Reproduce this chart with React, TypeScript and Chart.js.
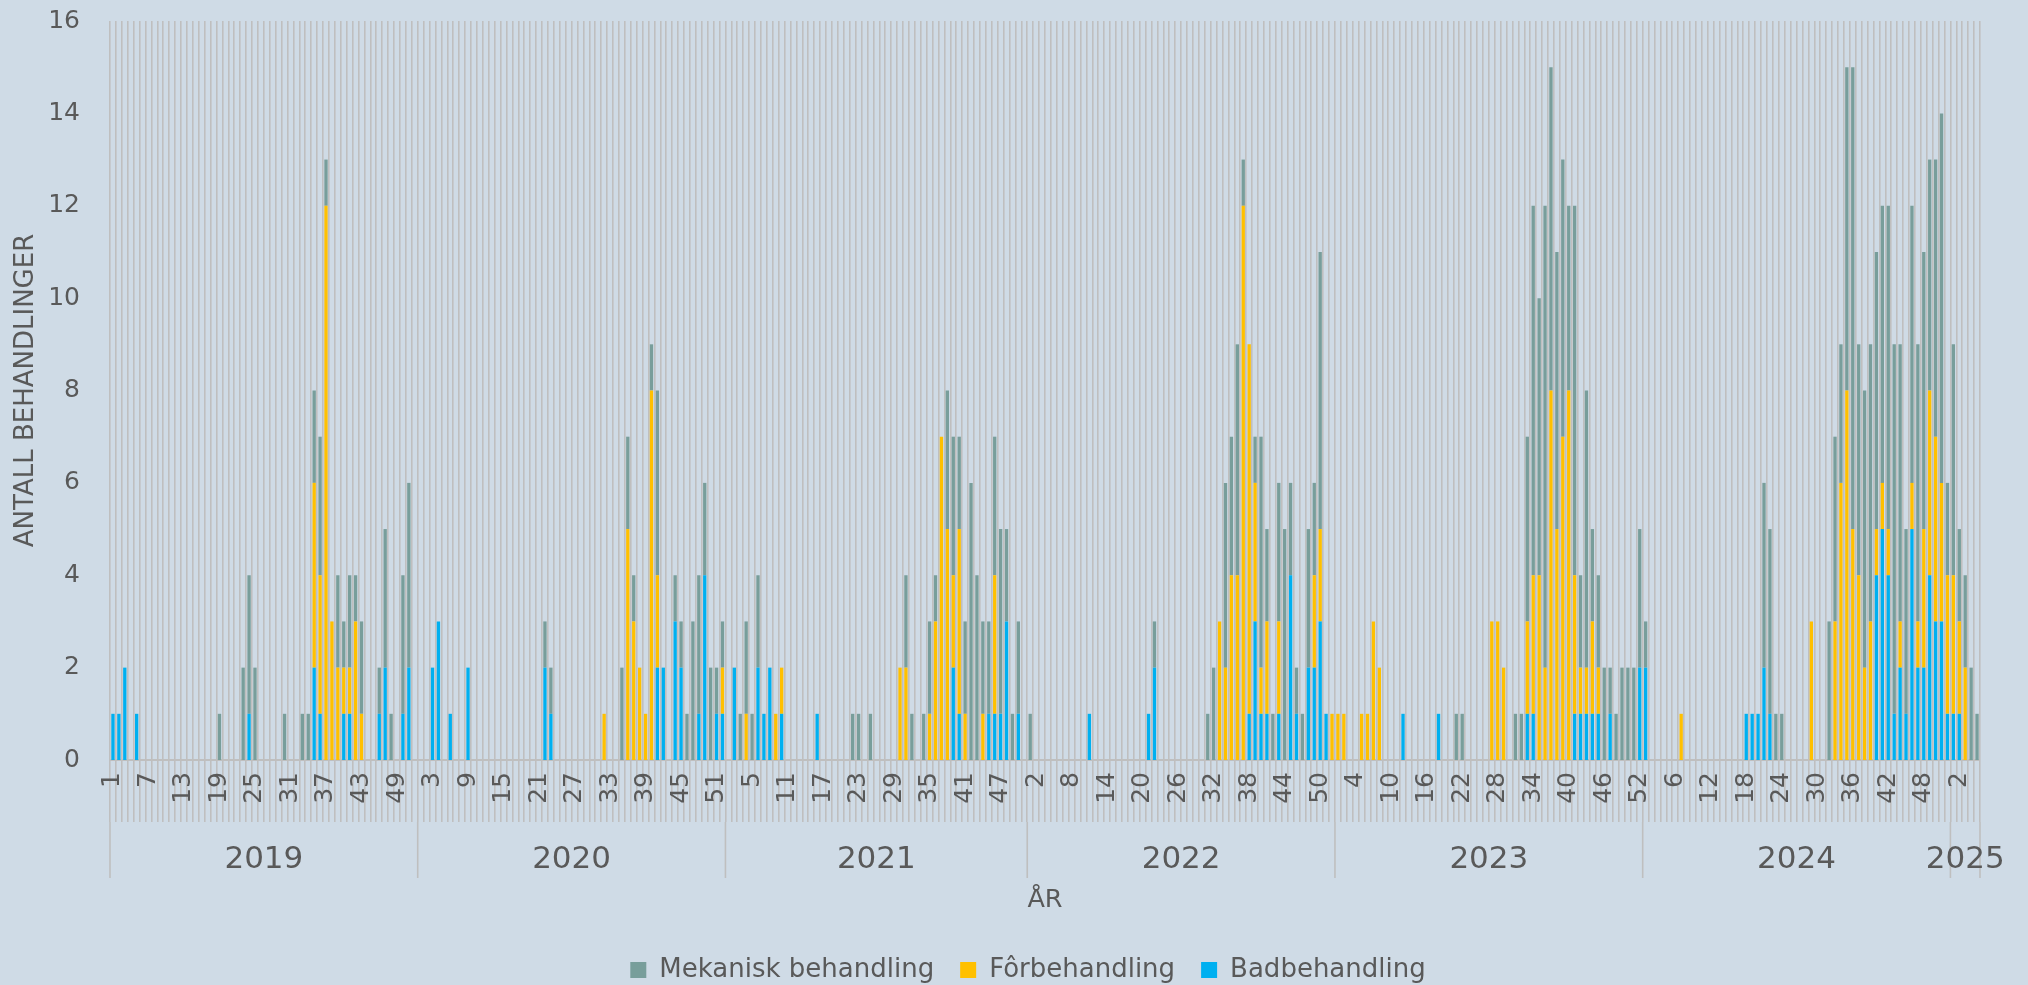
import React, { useEffect, useRef } from 'react';
import { Chart, registerables } from 'chart.js';

Chart.register(...registerables);

const YEARS = ['2019', '2020', '2021', '2022', '2023', '2024', '2025'];
const WEEKS_PER_YEAR = [52, 52, 51, 52, 52, 52, 5];
const LABEL_EVERY = 6;

// Mekanisk behandling
const MEK_2019 = [0,0,0,0,0,0,0,0,0,0, 0,0,0,0,0,0,0,0,1,0, 0,0,2,3,2,0,0,0,0,1, 0,0,1,1,2,3,1,0,2,1, 2,1,2,0,0,1,3,1,0,3, 4,0];
const MEK_2020 = [0,0,0,0,0,0,0,0,0,0, 0,0,0,0,0,0,0,0,0,0, 0,1,1,0,0,0,0,0,0,0, 0,0,0,0,2,2,1,0,0,1, 4,0,0,1,1,1,3,3,2,2, 1,1];
const MEK_2021 = [0,0,1,2,1,2,0,0,0,0, 0,0,0,0,0,0,0,0,0,0, 0,1,1,0,1,0,0,0,0,0, 2,1,0,1,2,1,0,3,3,2, 2,6,4,2,2,3,4,2,1,2, 0];
const MEK_2022 = [1,0,0,0,0,0,0,0,0,0, 0,0,0,0,0,0,0,0,0,0, 0,1,0,0,0,0,0,0,0,0, 1,2,0,4,3,5,1,0,1,5, 2,1,3,5,2,1,1,3,2,6, 0,0];
const MEK_2023 = [0,0,0,0,0,0,0,0,0,0, 0,0,0,0,0,0,0,0,0,0, 1,1,0,0,0,0,0,0,0,0, 1,1,4,8,6,10,7,6,6,4, 8,2,6,2,2,2,1,1,2,2, 2,3];
const MEK_2024 = [1,0,0,0,0,0,0,0,0,0, 0,0,0,0,0,0,0,0,0,0, 4,4,1,1,0,0,0,0,0,0, 0,3,4,3,7,10,5,6,6,6, 6,7,8,6,4,6,6,6,5,6, 8,2];
const MEK_2025 = [5,2,2,2,1];

// Fôrbehandling
const FOR_2019 = [0,0,0,0,0,0,0,0,0,0, 0,0,0,0,0,0,0,0,0,0, 0,0,0,0,0,0,0,0,0,0, 0,0,0,0,4,3,12,3,2,1, 1,3,1,0,0,0,0,0,0,0, 0,0];
const FOR_2020 = [0,0,0,0,0,0,0,0,0,0, 0,0,0,0,0,0,0,0,0,0, 0,0,0,0,0,0,0,0,0,0, 0,1,0,0,0,5,3,2,1,8, 2,0,0,0,0,0,0,0,0,0, 0,1];
const FOR_2021 = [0,0,0,1,0,0,0,0,1,1, 0,0,0,0,0,0,0,0,0,0, 0,0,0,0,0,0,0,0,0,2, 2,0,0,0,1,3,7,5,2,4, 1,0,0,1,0,3,0,0,0,0, 0];
const FOR_2022 = [0,0,0,0,0,0,0,0,0,0, 0,0,0,0,0,0,0,0,0,0, 0,0,0,0,0,0,0,0,0,0, 0,0,3,2,4,4,12,8,3,1, 2,0,2,0,0,0,0,0,2,2, 0,1];
const FOR_2023 = [1,1,0,0,1,1,3,2,0,0, 0,0,0,0,0,0,0,0,0,0, 0,0,0,0,0,0,3,3,2,0, 0,0,2,3,4,2,8,5,7,8, 3,1,1,2,1,0,0,0,0,0, 0,0];
const FOR_2024 = [0,0,0,0,0,0,1,0,0,0, 0,0,0,0,0,0,0,0,0,0, 0,0,0,0,0,0,0,0,3,0, 0,0,3,6,8,5,4,2,3,1, 1,1,0,1,0,1,1,3,4,4, 3,3];
const FOR_2025 = [3,2,2,0,0];

// Badbehandling
const BAD_2019 = [1,1,2,0,1,0,0,0,0,0, 0,0,0,0,0,0,0,0,0,0, 0,0,0,1,0,0,0,0,0,0, 0,0,0,0,2,1,0,0,0,1, 1,0,0,0,0,1,2,0,0,1, 2,0];
const BAD_2020 = [0,0,2,3,0,1,0,0,2,0, 0,0,0,0,0,0,0,0,0,0, 0,2,1,0,0,0,0,0,0,0, 0,0,0,0,0,0,0,0,0,0, 2,2,0,3,2,0,0,1,4,0, 1,1];
const BAD_2021 = [0,2,0,0,0,2,1,2,0,1, 0,0,0,0,0,1,0,0,0,0, 0,0,0,0,0,0,0,0,0,0, 0,0,0,0,0,0,0,0,2,1, 0,0,0,0,1,1,1,3,0,1, 0];
const BAD_2022 = [0,0,0,0,0,0,0,0,0,0, 1,0,0,0,0,0,0,0,0,0, 1,2,0,0,0,0,0,0,0,0, 0,0,0,0,0,0,0,1,3,1, 1,0,1,0,4,1,0,2,2,3, 1,0];
const BAD_2023 = [0,0,0,0,0,0,0,0,0,0, 0,1,0,0,0,0,0,1,0,0, 0,0,0,0,0,0,0,0,0,0, 0,0,1,1,0,0,0,0,0,0, 1,1,1,1,1,0,1,0,0,0, 0,2];
const BAD_2024 = [2,0,0,0,0,0,0,0,0,0, 0,0,0,0,0,0,0,1,1,1, 2,1,0,0,0,0,0,0,0,0, 0,0,0,0,0,0,0,0,0,4, 5,4,1,2,1,5,2,2,4,3, 3,1];
const BAD_2025 = [1,1,0,0,0];

const MEKANISK = [...MEK_2019, ...MEK_2020, ...MEK_2021, ...MEK_2022, ...MEK_2023, ...MEK_2024, ...MEK_2025];
const FORBEH = [...FOR_2019, ...FOR_2020, ...FOR_2021, ...FOR_2022, ...FOR_2023, ...FOR_2024, ...FOR_2025];
const BADBEH = [...BAD_2019, ...BAD_2020, ...BAD_2021, ...BAD_2022, ...BAD_2023, ...BAD_2024, ...BAD_2025];
const WEEK_LABELS = WEEKS_PER_YEAR.flatMap((n) => Array.from({ length: n }, (_, i) => String(i + 1)));

const FONT = "'DejaVu Sans', Verdana, sans-serif";
const TEXT = '#595959';
const GRID = '#bfbfbf';
const BG = '#cfdbe6';
const GRAY = '#789e9b';
const YELLOW = '#ffc000';
const BLUE = '#00b0f0';

const yearPlugin = {
  id: 'yearLabels',
  afterDraw(chart: any) {
    const { ctx, chartArea } = chart;
    const xs = chart.scales.x;
    const half = (xs.getPixelForValue(1) - xs.getPixelForValue(0)) / 2;
    const yTop = chartArea.bottom + 62;
    const yBot = chartArea.bottom + 118;
    const yMid = chartArea.bottom + 100;
    ctx.save();
    ctx.strokeStyle = GRID;
    ctx.lineWidth = 1.6;
    ctx.fillStyle = TEXT;
    ctx.font = `31px ${FONT}`;
    ctx.textAlign = 'center';
    ctx.textBaseline = 'middle';
    let start = 0;
    WEEKS_PER_YEAR.forEach((n, k) => {
      const x0 = xs.getPixelForValue(start) - half;
      const x1 = xs.getPixelForValue(start + n - 1) + half;
      ctx.beginPath();
      ctx.moveTo(x0, yTop);
      ctx.lineTo(x0, yBot);
      ctx.stroke();
      if (k === WEEKS_PER_YEAR.length - 1) {
        ctx.beginPath();
        ctx.moveTo(x1, yTop);
        ctx.lineTo(x1, yBot);
        ctx.stroke();
      }
      ctx.fillText(YEARS[k], (x0 + x1) / 2, yMid);
      start += n;
    });
    ctx.restore();
  },
};

const legendShift = {
  id: 'legendShift',
  afterLayout(chart: any) {
    const lg = chart.legend;
    if (lg) {
      lg.left -= 17;
      lg.right -= 17;
    }
  },
};

export default function App() {
  const ref = useRef<HTMLCanvasElement>(null);
  useEffect(() => {
    const canvas = ref.current!;
    const chart = new Chart(canvas, {
      type: 'bar',
      data: {
        labels: WEEK_LABELS,
        datasets: [
          { label: 'Badbehandling', data: BADBEH, backgroundColor: BLUE, borderWidth: 0 },
          { label: 'Fôrbehandling', data: FORBEH, backgroundColor: YELLOW, borderWidth: 0 },
          { label: 'Mekanisk behandling', data: MEKANISK, backgroundColor: GRAY, borderWidth: 0 },
        ],
      },
      options: {
        animation: false,
        responsive: true,
        maintainAspectRatio: false,
        layout: { padding: { left: 0, right: 48, top: 21, bottom: -8 } },
        datasets: { bar: { categoryPercentage: 0.56, barPercentage: 1 } },
        scales: {
          x: {
            stacked: true,
            grid: { color: GRID, lineWidth: 1.6, offset: true, tickLength: 62, drawOnChartArea: true, tickColor: GRID },
            border: { color: GRID, width: 2 },
            ticks: {
              autoSkip: false,
              maxRotation: 90,
              minRotation: 90,
              padding: -50,
              color: TEXT,
              font: { family: FONT, size: 25 },
              callback: (_v: any, index: number) => (index % LABEL_EVERY === 0 ? WEEK_LABELS[index] : ''),
            },
            title: {
              display: true,
              text: 'ÅR',
              color: TEXT,
              font: { family: FONT, size: 25.5, lineHeight: 1 },
              padding: { top: 0, bottom: 18 },
            },
            afterFit: (s: any) => {
              s.height = 171;
            },
          },
          y: {
            stacked: true,
            min: 0,
            max: 16,
            ticks: { stepSize: 2, color: TEXT, font: { family: FONT, size: 25 }, padding: 30 },
            grid: { display: false, drawTicks: false },
            border: { display: false },
            title: {
              display: true,
              text: 'ANTALL BEHANDLINGER',
              color: TEXT,
              font: { family: FONT, size: 26, lineHeight: 1 },
              padding: { top: 13, bottom: 0 },
            },
            afterFit: (s: any) => {
              s.width = 110;
              s.paddingTop = 15;
              s.paddingBottom = 15;
            },
          },
        },
        plugins: {
          legend: {
            position: 'bottom',
            fullSize: false,
            labels: {
              color: TEXT,
              font: { family: FONT, size: 26 },
              boxWidth: 16,
              boxHeight: 16,
              padding: 26,
              sort: (a: any, b: any) => b.datasetIndex - a.datasetIndex,
            },
          },
          tooltip: { enabled: false },
        },
      } as any,
      plugins: [yearPlugin, legendShift],
    });
    return () => chart.destroy();
  }, []);
  return (
    <div style={{ position: 'fixed', left: 0, top: 0, width: 2028, height: 985, background: BG }}>
      <canvas ref={ref} />
    </div>
  );
}
